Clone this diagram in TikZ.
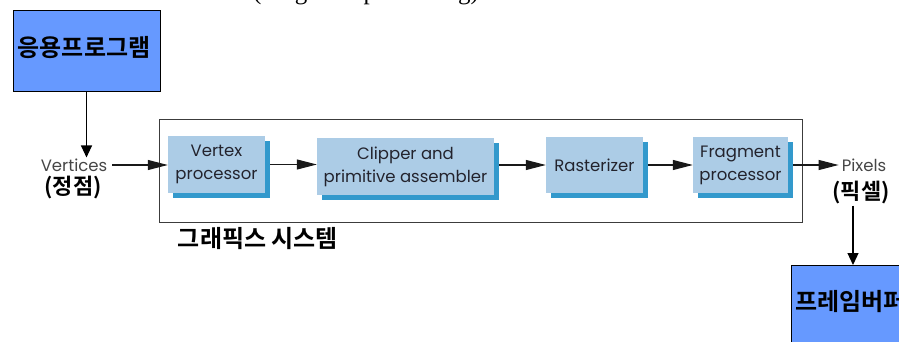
\documentclass[tikz,border=0pt]{standalone}
\usepackage{fontspec}
\setmainfont{Liberation Serif}
\newfontfamily\pipefont{Poppins}
\newfontfamily\krfont{Noto Sans CJK KR}[BoldFont={Noto Sans CJK KR Bold}]
\usetikzlibrary{arrows.meta,shadows}
\definecolor{appblue}{RGB}{102,153,255}
\definecolor{stagefill}{RGB}{172,204,230}
\definecolor{stageshadow}{RGB}{51,153,204}
\definecolor{stagetext}{RGB}{35,35,45}
\definecolor{labelgray}{RGB}{70,70,70}
\definecolor{framegray}{RGB}{60,60,60}
\tikzset{
  stagebox/.style={fill=stagefill, text=stagetext, inner sep=0pt, align=center,
    font=\pipefont\fontsize{16.5}{23}\selectfont,
    drop shadow={shadow xshift=5pt, shadow yshift=-5pt, fill=stageshadow, opacity=1}},
  appbox/.style={fill=appblue, draw=black, line width=0.8pt, inner sep=0pt},
  krlabel/.style={font=\krfont\bfseries\fontsize{22}{26}\selectfont, text=black, inner sep=1pt},
  krbig/.style={krlabel, font=\krfont\bfseries\fontsize{24}{28}\selectfont},
  enlabel/.style={font=\pipefont\fontsize{16.5}{20}\selectfont, text=labelgray, inner sep=1pt},
  harrow/.style={draw=black!90, line width=1.1pt, -{Triangle[length=20pt,width=10pt]}},
  varrow/.style={draw=black, line width=1.2pt, -{Triangle[length=12pt,width=11pt]}},
  sysframe/.style={draw=framegray, line width=0.9pt, inner sep=0pt}
}
\begin{document}
\begin{tikzpicture}[x=1pt,y=-1pt]
\useasboundingbox (0,0) rectangle (899,342);
\clip (0,0) rectangle (899,342);
\fill[white] (0,0) rectangle (899,342);

% heading cut by the top edge of the picture
\node[anchor=base west, inner sep=0pt, font=\fontsize{25}{30}\selectfont, text=black] (head) at (253,-0.5) {(Fragment processing)};

% application box
\node[appbox, minimum width=147pt, minimum height=81pt] (app) at (86.5,50.5) {};
\node[krbig] (apptxt) at (84,48) {응용프로그램};

% graphics system frame
\node[sysframe, minimum width=643pt, minimum height=103pt] (sys) at (480.5,170.5) {};
\node[krbig] (systxt) at (258,239) {그래픽스 시스템};

% stages
\node[stagebox, minimum width=97pt, minimum height=57pt] (vp) at (216.5,164.5) {Vertex\\processor};
\node[stagebox, minimum width=177pt, minimum height=57pt] (cl) at (405.5,166.5) {Clipper and\\primitive assembler};
\node[stagebox, minimum width=97pt, minimum height=56pt] (ra) at (594.5,165) {Rasterizer};
\node[stagebox, minimum width=95pt, minimum height=56pt] (fr) at (740.5,165) {Fragment\\processor};

% input / output labels
\node[enlabel] (vert) at (74,165) {Vertices};
\node[krlabel] (verttxt) at (73,188) {(정점)};
\node[enlabel] (pix) at (864,165) {Pixels};
\node[krlabel] (pixtxt) at (861,193) {(픽셀)};

% frame buffer box (cut by the picture edge)
\node[appbox, minimum width=150pt, minimum height=90pt, anchor=north west] (fb) at (791,265) {};
\node[krbig, anchor=west] (fbtxt) at (794,302) {프레임버퍼};

% connectors
\draw[varrow] (app.south) -- (app.south |- vert.north);
\draw[harrow] ([xshift=4pt]vert.east) -- (vp.west |- vert.east);
\draw[harrow] ([xshift=5pt]vp.east) -- (cl.west |- vp.east);
\draw[harrow] ([xshift=5pt]cl.east |- ra.west) -- (ra.west);
\draw[harrow] ([xshift=5pt]ra.east) -- (fr.west);
\draw[harrow] ([xshift=5pt]fr.east) -- ([xshift=-2pt]pix.west);
\draw[varrow] ([xshift=-8pt]pixtxt.south) -- ([xshift=-8pt]pixtxt.south |- fb.north);
\end{tikzpicture}
\end{document}
